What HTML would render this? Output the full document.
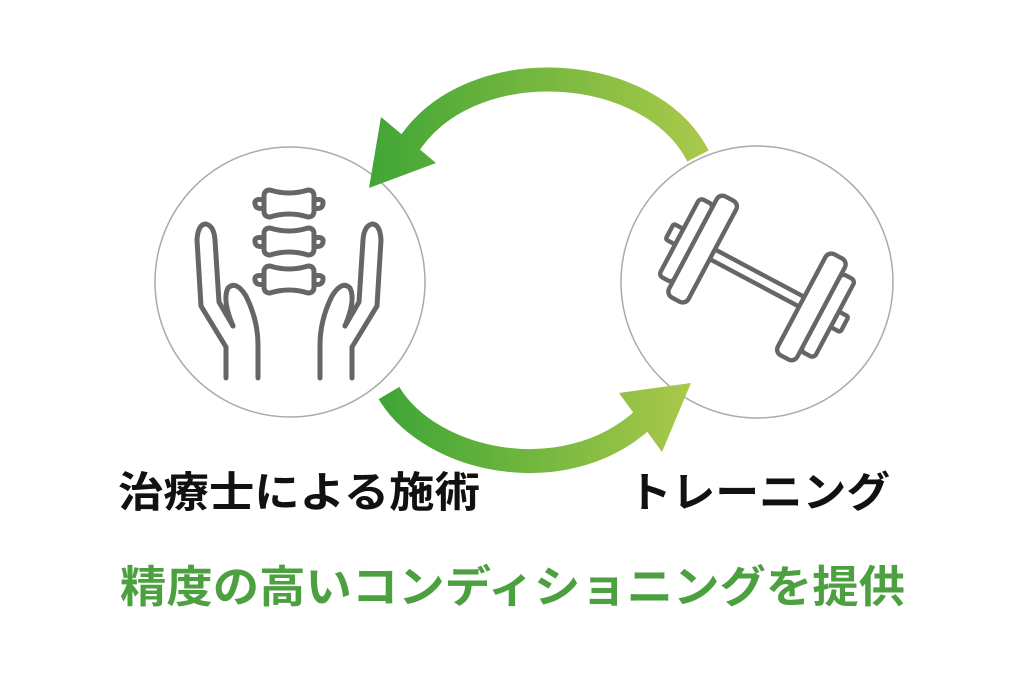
<!DOCTYPE html>
<html><head><meta charset="utf-8"><style>
html,body{margin:0;padding:0;background:#fff;}
svg{display:block;}
text{font-family:"Liberation Sans","Noto Sans CJK JP",sans-serif;font-weight:bold;}
</style></head><body>
<svg width="1024" height="683" viewBox="0 0 1024 683" xmlns="http://www.w3.org/2000/svg">
<defs>
<linearGradient id="g1" gradientUnits="userSpaceOnUse" x1="365" y1="0" x2="705" y2="0">
<stop offset="0" stop-color="#3fa535"/><stop offset="1" stop-color="#aac94a"/></linearGradient>
<linearGradient id="g2" gradientUnits="userSpaceOnUse" x1="385" y1="0" x2="692" y2="0">
<stop offset="0" stop-color="#3fa535"/><stop offset="1" stop-color="#aac94a"/></linearGradient>
</defs>
<circle cx="290" cy="282" r="135" fill="none" stroke="#aaa" stroke-width="1.5"/>
<circle cx="757" cy="282" r="136" fill="none" stroke="#aaa" stroke-width="1.5"/>
<path d="M698,156 C650,62 470,50 408,146" fill="none" stroke="url(#g1)" stroke-width="24"/>
<polygon points="369,188 381,117 436,163" fill="url(#g1)"/>
<path d="M389,393 C430,462 565,492 645,418" fill="none" stroke="url(#g2)" stroke-width="24"/>
<polygon points="691,383 619,393 662,452" fill="url(#g2)"/>
<g fill="none" stroke="#666" stroke-width="5" stroke-linecap="round" stroke-linejoin="round">
<g id="vert">
<path d="M270,190 Q289,196 308,190 Q314,190 314,196 L314,211 Q314,217 308,217 Q289,211 270,217 Q264,217 264,211 L264,196 Q264,190 270,190 Z"/>
<path d="M264,200 Q254,198 255,204 Q256,210 264,208"/>
<path d="M314,200 Q324,198 323,204 Q322,210 314,208"/>
</g>
<use href="#vert" transform="translate(0,38)"/>
<use href="#vert" transform="translate(0,76)"/>
<g id="hand">
<path d="M226,378 L226,347 L201,306 L197,240 Q198,224 206,224 Q214,226 215,240 L219,302 L233,326"/>
<path d="M233,326 Q222,300 228,288 Q236,280 246,296 Q258,320 258,345 L258,378"/>
</g>
<use href="#hand" transform="translate(578,0) scale(-1,1)"/>
</g>
<g transform="translate(757,278) rotate(28) scale(1.1)" fill="none" stroke="#666" stroke-width="4" stroke-linejoin="round">
<rect x="-48" y="-5" width="96" height="10" fill="#fff"/>
<rect x="-90" y="-8" width="10" height="16" rx="2"/>
<rect x="-80" y="-40" width="14" height="80" rx="4" fill="#fff"/>
<rect x="-66" y="-52" width="20" height="104" rx="6" fill="#fff"/>
<rect x="80" y="-8" width="10" height="16" rx="2"/>
<rect x="66" y="-40" width="14" height="80" rx="4" fill="#fff"/>
<rect x="46" y="-52" width="20" height="104" rx="6" fill="#fff"/>
</g>
<text x="118" y="507" font-size="42" fill="#111" textLength="362" lengthAdjust="spacingAndGlyphs">治療士による施術</text>
<text x="628" y="507" font-size="42" fill="#111" textLength="262" lengthAdjust="spacingAndGlyphs">トレーニング</text>
<text x="120" y="602" font-size="44" fill="#4ca040" textLength="785" lengthAdjust="spacingAndGlyphs">精度の高いコンディショニングを提供</text>
</svg>
</body></html>
